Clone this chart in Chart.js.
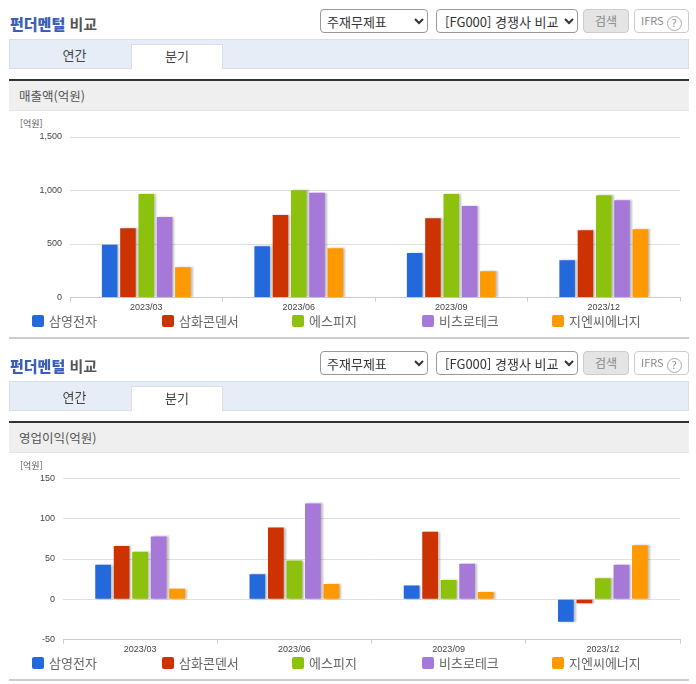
<!DOCTYPE html>
<html lang="ko">
<head>
<meta charset="utf-8">
<title>펀더멘털 비교</title>
<script src="https://cdn.jsdelivr.net/npm/chart.js@4/dist/chart.umd.min.js"></script>
<style>
  html, body { margin: 0; padding: 0; background: #fff; }
  body { position: relative; width: 696px; height: 684px; overflow: hidden; font-family: "Noto Sans CJK KR", "Noto Sans", sans-serif; color: #444; }
  .block { position: absolute; left: 0; width: 696px; height: 342px; }
  .block > * { position: absolute; box-sizing: border-box; }
  .title { left: 10px; top: 13px; font-size: 15px; line-height: 22px; font-weight: 700; color: #555; }
  .title b { color: #3a5fb5; }
  select { height: 24px; top: 9px; font: 13px/20px "Noto Sans CJK KR", sans-serif; color: #333; background: #fff; border: 1px solid #999; border-radius: 4px; }
  .btn { left: 583px; top: 9px; width: 46px; height: 24px; background: #e4e4e4; border: 1px solid #ccc; border-radius: 4px; font-size: 12px; line-height: 21px; text-align: center; color: #888; }
  .ifrs { left: 634px; top: 9px; width: 55px; height: 24px; border: 1px solid #ccc; border-radius: 4px; font-size: 11px; line-height: 21px; padding-left: 6px; color: #888; }
  .ifrs i { display: inline-block; width: 13px; height: 13px; margin-left: 3px; border: 1px solid #aaa; border-radius: 50%; font: 10px/13px "Noto Sans", sans-serif; text-align: center; vertical-align: -2px; }
  .tabs { left: 9px; top: 39px; width: 680px; height: 30px; background: #e6edf7; border: 1px solid #d8dfe9; }
  .tab { font-size: 13px; line-height: 30px; text-align: center; color: #444; }
  .tab.off { left: 18px; top: 40px; width: 113px; }
  .tab.on { left: 131px; top: 44px; width: 92px; height: 25px; line-height: 21px; background: #fff; border: 1px solid #d8dfe9; border-bottom: 0; }
  .band { left: 9px; top: 79px; width: 680px; height: 32px; border-top: 2px solid #333; background: #efefef; border-bottom: 1px solid #e4e4e4; padding-left: 10px; font-size: 12.5px; line-height: 29px; color: #555; }
  .unit { left: 20px; top: 118px; font-size: 9px; line-height: 12px; color: #555; }
  canvas { position: absolute; left: 0; top: 115px; }
  .legend { left: 0; top: 312px; width: 696px; height: 18px; }
  .legend span { position: absolute; top: 0; font-size: 13px; line-height: 18px; color: #666; white-space: nowrap; }
  .legend u { position: absolute; top: 3px; width: 12px; height: 12px; border-radius: 2px; }
  .rule { left: 9px; top: 337px; width: 680px; height: 2px; background: #ccc; }
</style>
</head>
<body>
<div id="root"></div>
<script>
  "use strict";
  const categories = ["2023/03", "2023/06", "2023/09", "2023/12"];
  const companies = ["삼영전자", "삼화콘덴서", "에스피지", "비츠로테크", "지엔씨에너지"];
  const colors = ["#2369dc", "#cc3300", "#8cc20e", "#a678d8", "#ff9900"];

  // 매출액(억원), 회사별 분기 값
  const salesSamyoung = [492, 480, 417, 349];
  const salesSamwha = [648, 770, 741, 629];
  const salesSpg = [968, 1003, 968, 956];
  const salesVitzro = [753, 978, 856, 910];
  const salesGnc = [283, 461, 246, 638];

  // 영업이익(억원)
  const profitSamyoung = [43, 31, 17, -28];
  const profitSamwha = [66, 89, 84, -5];
  const profitSpg = [59, 48, 24, 26];
  const profitVitzro = [78, 119, 44, 43];
  const profitGnc = [13, 19, 9, 67];

  const salesTicks = { min: 0, max: 1500, step: 500 };
  const profitTicks = { min: -50, max: 150, step: 50 };

  // 막대 그림자 (원본 차트의 회색 그림자)
  const barShadow = {
    id: "barShadow",
    beforeDatasetDraw(c) {
      c.ctx.save();
      c.ctx.shadowColor = "rgba(0,0,0,.25)";
      c.ctx.shadowOffsetX = 2;
      c.ctx.shadowOffsetY = 0;
      c.ctx.shadowBlur = 2;
    },
    afterDatasetDraw(c) { c.ctx.restore(); }
  };

  function addBlock(offset, label, series, range, axisLeft, padTop, padBottom) {
    const el = document.createElement("div");
    el.className = "block";
    el.style.top = offset + "px";
    const legend = companies.map((name, i) =>
      `<u style="left:${32 + i * 130}px;background:${colors[i]}"></u><span style="left:${49 + i * 130}px">${name}</span>`).join("");
    el.innerHTML =
      `<div class="title"><b>펀더멘털</b> 비교</div>` +
      `<select style="left:320px;width:108px;padding:0 0 0 2px"><option>주재무제표</option></select>` +
      `<select style="left:436px;width:142px;padding:0 0 0 4px"><option>[FG000] 경쟁사 비교</option></select>` +
      `<div class="btn">검색</div><div class="ifrs">IFRS<i>?</i></div>` +
      `<div class="tabs"></div><div class="tab off">연간</div><div class="tab on">분기</div>` +
      `<div class="band">${label}</div><div class="unit">[억원]</div>` +
      `<canvas width="696" height="200" style="width:696px;height:200px"></canvas>` +
      `<div class="legend">${legend}</div><div class="rule"></div>`;
    document.getElementById("root").appendChild(el);

    new Chart(el.querySelector("canvas"), {
      type: "bar",
      plugins: [barShadow],
      data: {
        labels: categories,
        datasets: series.map((values, i) => ({ label: companies[i], data: values, backgroundColor: colors[i] }))
      },
      options: {
        responsive: false,
        animation: false,
        devicePixelRatio: 1,
        categoryPercentage: 0.6,
        barPercentage: 0.85,
        layout: { padding: { top: padTop, right: 16, bottom: 0, left: 0 } },
        plugins: { legend: { display: false }, tooltip: { enabled: false } },
        scales: {
          x: {
            afterFit: (s) => { s.height = padBottom; },
            border: { color: "#c8ccd4" },
            grid: { drawOnChartArea: false, tickLength: 4, color: "#c8ccd4" },
            ticks: { color: "#444", font: { size: 9, family: "Liberation Sans" }, padding: 1, maxRotation: 0 }
          },
          y: {
            min: range.min,
            max: range.max,
            afterFit: (s) => { s.width = axisLeft; },
            border: { display: false },
            grid: { color: "#e0e0e0", drawTicks: false },
            ticks: {
              stepSize: range.step,
              color: "#444",
              padding: 8,
              font: { size: 9, family: "Liberation Sans" },
              callback: (v) => v.toLocaleString("en-US")
            }
          }
        }
      }
    });
  }

  addBlock(0, "매출액(억원)", [salesSamyoung, salesSamwha, salesSpg, salesVitzro, salesGnc], salesTicks, 70, 22, 17.5);
  addBlock(342, "영업이익(억원)", [profitSamyoung, profitSamwha, profitSpg, profitVitzro, profitGnc], profitTicks, 63, 21.5, 17.5);
</script>
</body>
</html>
